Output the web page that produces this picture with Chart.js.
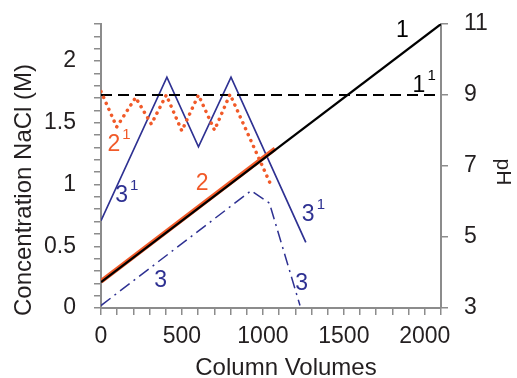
<!DOCTYPE html>
<html>
<head>
<meta charset="utf-8">
<script src="https://cdn.jsdelivr.net/npm/chart.js@4.4.0/dist/chart.umd.min.js"></script>
<style>
  html, body { margin: 0; padding: 0; background: #fff; }
  #wrap { width: 517px; height: 378px; position: relative; }
</style>
</head>
<body>
<div id="wrap"><canvas id="chart"></canvas></div>
<script>
// values, x = column volumes
const line1X = [0, 2100];
const line1Y = [0.21, 2.30];                 // NaCl (M), left axis
const line1bX = [0, 2100];
const line1bY = [9, 9];                      // pH, right axis
const line2X = [0, 1075];
const line2Y = [0.215, 1.29];                // NaCl (M)
const line2bX = [0, 97, 214, 311, 403, 499, 602, 701, 797, 1054];
const line2bY = [9.1, 8.1, 8.93, 8.18, 9.0, 7.99, 9.0, 8.01, 9.02, 6.42]; // pH
const line3X = [0, 927, 1040, 1229];
const line3Y = [0.02, 0.95, 0.85, 0.02];     // NaCl (M)
const line3bX = [0, 407, 602, 803, 1265];
const line3bY = [5.46, 9.5, 7.54, 9.5, 4.85]; // pH

const xTickLabels = [0, 500, 1000, 1500, 2000];
const yTickLabels = [0, 0.5, 1, 1.5, 2];
const pHTickLabels = [3, 5, 7, 9, 11];

const black = '#000000';
const orange = '#f15a29';
const navy = '#2e3192';
const axisGrey = '#8c8c8c';
const textDark = '#231f20';
const FONT = '"Liberation Sans", Arial, sans-serif';

const pts = (xs, ys) => xs.map((x, i) => ({ x: x, y: ys[i] }));
const hasLabel = (list, v) => list.some(l => Math.abs(l - v) < 1e-6);

// first dataset is painted last (on top)
const datasets = [
    { data: pts(line1X, line1Y), yAxisID: 'y', borderColor: black, borderWidth: 2.2 },
    { data: pts(line2bX, line2bY), yAxisID: 'y1', borderColor: orange, borderWidth: 3.5,
      borderDash: [0.1, 6.4], borderCapStyle: 'round' },
    { data: pts(line1bX, line1bY), yAxisID: 'y1', borderColor: black, borderWidth: 2, borderDash: [11, 6] },
    { data: pts(line2X, line2Y), yAxisID: 'y', borderColor: orange, borderWidth: 4.5 },
    { data: pts(line3bX, line3bY), yAxisID: 'y1', borderColor: navy, borderWidth: 1.7 },
    { data: pts(line3X, line3Y), yAxisID: 'y', borderColor: navy, borderWidth: 1.5, borderDash: [12, 5, 2, 5] }
];
datasets.forEach(d => { d.pointRadius = 0; d.fill = false; d.tension = 0; });

// curve names, placed in data units (column volumes, NaCl M)
const curveLabels = [
    { text: '1', sup: '', x: 1862, y: 2.243, color: black },
    { text: '1', sup: '1', x: 1964, y: 1.80, color: black },
    { text: '2', sup: '1', x: 80, y: 1.32, color: orange },
    { text: '3', sup: '1', x: 128, y: 0.907, color: navy },
    { text: '2', sup: '', x: 624, y: 1.004, color: orange },
    { text: '3', sup: '1', x: 1280, y: 0.753, color: navy },
    { text: '3', sup: '', x: 368, y: 0.219, color: navy },
    { text: '3', sup: '', x: 1240, y: 0.194, color: navy }
];

const textPlugin = {
    id: 'textPlugin',
    afterDatasetsDraw(chart) {
        const ctx = chart.ctx;
        const xs = chart.scales.x, ys = chart.scales.y;
        const area = chart.chartArea;
        ctx.save();
        curveLabels.forEach(l => {
            const px = xs.getPixelForValue(l.x);
            const py = ys.getPixelForValue(l.y);
            ctx.fillStyle = l.color;
            ctx.font = '23px ' + FONT;
            ctx.textAlign = 'center';
            ctx.textBaseline = 'middle';
            ctx.fillText(l.text, px, py);
            if (l.sup) {
                const w = ctx.measureText(l.text).width;
                ctx.font = '15px ' + FONT;
                ctx.textAlign = 'left';
                ctx.fillText(l.sup, px + w / 2 + 2, py - 10);
            }
        });

        // axis titles
        ctx.fillStyle = textDark;
        ctx.font = '24px ' + FONT;
        ctx.textAlign = 'center';
        ctx.textBaseline = 'alphabetic';
        ctx.fillText('Column Volumes', (area.left + area.right) / 2 + 15, 375);

        ctx.save();
        ctx.translate(31, (area.top + area.bottom) / 2 + 24);
        ctx.rotate(-Math.PI / 2);
        ctx.fillText('Concentration NaCl (M)', 0, 0);
        ctx.restore();

        ctx.save();
        ctx.font = '21px ' + FONT;
        ctx.translate(496.5, (area.top + area.bottom) / 2 + 6);
        ctx.rotate(Math.PI / 2);
        ctx.fillText('pH', 0, 0);
        ctx.restore();
        ctx.restore();
    }
};

const tickFont = { family: FONT, size: 23 };
const axisGrid = { drawOnChartArea: false, tickLength: 7, color: axisGrey, lineWidth: 1.5 };
const axisBorder = { color: axisGrey, width: 2 };

// fixed box sizes so the plot area lands where the original has it
const fixVertical = w => s => { s.width = w; s.paddingTop = 0; s.paddingBottom = 0; };
const fixHorizontal = h => s => { s.height = h; s.paddingLeft = 0; s.paddingRight = 0; };

new Chart(document.getElementById('chart'), {
    type: 'line',
    data: { datasets: datasets },
    options: {
        responsive: true,
        maintainAspectRatio: false,
        animation: false,
        layout: { padding: { top: 24, left: 0, right: 0, bottom: 0 } },
        plugins: { legend: { display: false }, tooltip: { enabled: false } },
        scales: {
            x: {
                type: 'linear', min: 0, max: 2100,
                ticks: {
                    stepSize: 100, autoSkip: false, maxRotation: 0, maxTicksLimit: 100,
                    color: textDark, font: tickFont, padding: 8,
                    callback: v => hasLabel(xTickLabels, v) ? String(v) : ''
                },
                grid: axisGrid, border: axisBorder,
                afterFit: fixHorizontal(70)
            },
            y: {
                position: 'left', min: 0, max: 2.3,
                ticks: {
                    stepSize: 0.1, autoSkip: false, maxTicksLimit: 100,
                    color: textDark, font: tickFont, padding: 18,
                    callback: v => hasLabel(yTickLabels, v) ? String(Math.round(v * 2) / 2) : ''
                },
                grid: axisGrid, border: axisBorder,
                afterFit: fixVertical(101)
            },
            y1: {
                position: 'right', min: 3, max: 11,
                ticks: {
                    stepSize: 2, autoSkip: false,
                    color: textDark, font: tickFont, padding: 16,
                    callback: v => hasLabel(pHTickLabels, v) ? String(v) : ''
                },
                grid: axisGrid, border: axisBorder,
                afterFit: fixVertical(76)
            }
        }
    },
    plugins: [textPlugin]
});
</script>
</body>
</html>
